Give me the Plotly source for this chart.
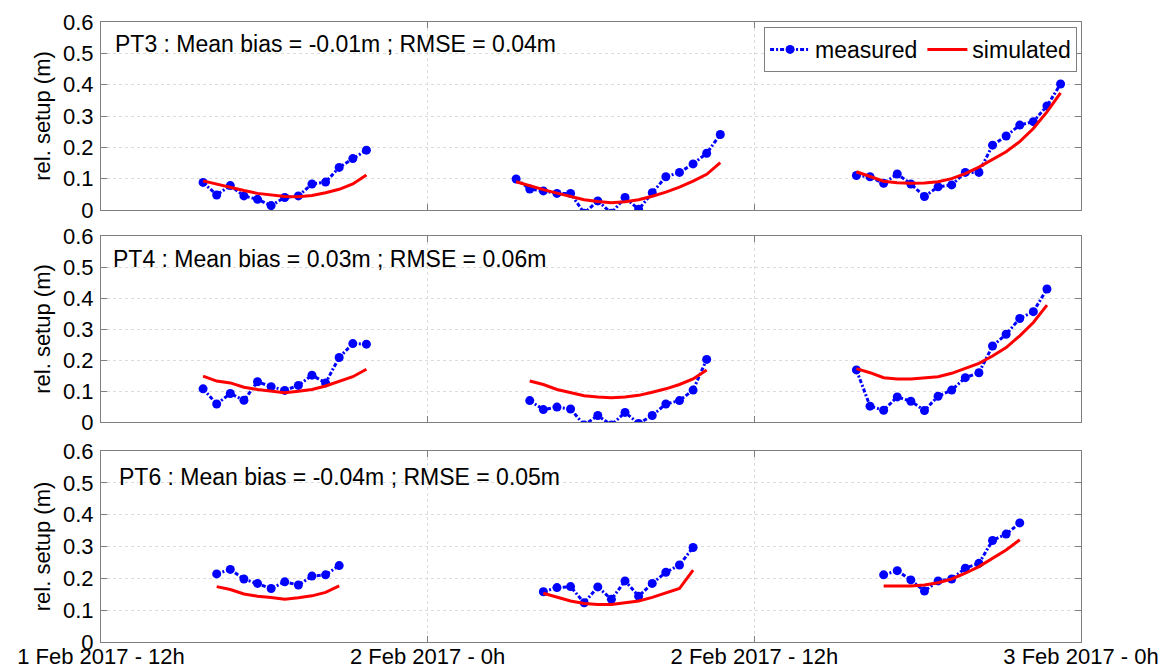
import plotly.graph_objects as go
from plotly.subplots import make_subplots

# ---------------- data ----------------
D1 = "2017-02-01 "
D2 = "2017-02-02 "

# PT3
pt3_t_a = [D1 + t for t in ["15:45", "16:15", "16:45", "17:15", "17:45", "18:15", "18:45", "19:15", "19:45", "20:15", "20:45", "21:15", "21:45"]]
pt3_t_b = [D2 + t for t in ["03:15", "03:45", "04:15", "04:45", "05:15", "05:45", "06:15", "06:45", "07:15", "07:45", "08:15", "08:45", "09:15", "09:45", "10:15", "10:45"]]
pt3_t_c = [D2 + t for t in ["15:45", "16:15", "16:45", "17:15", "17:45", "18:15", "18:45", "19:15", "19:45", "20:15", "20:45", "21:15", "21:45", "22:15", "22:45", "23:15"]]
pt3_meas_a = [0.088, 0.048, 0.078, 0.045, 0.034, 0.014, 0.040, 0.045, 0.083, 0.089, 0.136, 0.164, 0.191]
pt3_sim_a = [0.093, 0.082, 0.072, 0.062, 0.053, 0.047, 0.043, 0.042, 0.046, 0.055, 0.066, 0.083, 0.112]
pt3_meas_b = [0.099, 0.067, 0.061, 0.053, 0.053, -0.010, 0.029, -0.010, 0.040, 0.002, 0.055, 0.106, 0.120, 0.147, 0.181, 0.241]
pt3_sim_b = [0.090, 0.077, 0.065, 0.054, 0.043, 0.033, 0.027, 0.023, 0.026, 0.033, 0.044, 0.057, 0.073, 0.092, 0.114, 0.151]
pt3_meas_c = [0.110, 0.106, 0.085, 0.115, 0.083, 0.043, 0.074, 0.080, 0.120, 0.120, 0.207, 0.236, 0.271, 0.282, 0.332, 0.402]
pt3_sim_c = [0.122, 0.106, 0.092, 0.087, 0.085, 0.086, 0.090, 0.100, 0.116, 0.137, 0.161, 0.186, 0.218, 0.260, 0.313, 0.374]

# PT4
pt4_t_a = pt3_t_a
pt4_t_b = [D2 + t for t in ["03:45", "04:15", "04:45", "05:15", "05:45", "06:15", "06:45", "07:15", "07:45", "08:15", "08:45", "09:15", "09:45", "10:15"]]
pt4_t_c = [D2 + t for t in ["15:45", "16:15", "16:45", "17:15", "17:45", "18:15", "18:45", "19:15", "19:45", "20:15", "20:45", "21:15", "21:45", "22:15", "22:45"]]
pt4_meas_a = [0.107, 0.058, 0.092, 0.070, 0.130, 0.114, 0.102, 0.118, 0.151, 0.126, 0.208, 0.253, 0.251]
pt4_sim_a = [0.148, 0.132, 0.126, 0.112, 0.105, 0.099, 0.094, 0.099, 0.105, 0.116, 0.130, 0.146, 0.170]
pt4_meas_b = [0.069, 0.040, 0.048, 0.042, -0.010, 0.021, -0.010, 0.031, -0.005, 0.021, 0.058, 0.069, 0.103, 0.202]
pt4_sim_b = [0.132, 0.121, 0.105, 0.094, 0.085, 0.081, 0.078, 0.081, 0.086, 0.096, 0.107, 0.121, 0.139, 0.168]
pt4_meas_c = [0.168, 0.051, 0.038, 0.081, 0.067, 0.037, 0.083, 0.103, 0.143, 0.159, 0.245, 0.283, 0.334, 0.356, 0.429]
pt4_sim_c = [0.172, 0.159, 0.143, 0.139, 0.139, 0.142, 0.146, 0.157, 0.173, 0.189, 0.213, 0.240, 0.278, 0.321, 0.377]

# PT6
pt6_t_a = [D1 + t for t in ["16:15", "16:45", "17:15", "17:45", "18:15", "18:45", "19:15", "19:45", "20:15", "20:45"]]
pt6_t_b = [D2 + t for t in ["04:15", "04:45", "05:15", "05:45", "06:15", "06:45", "07:15", "07:45", "08:15", "08:45", "09:15", "09:45"]]
pt6_t_c = [D2 + t for t in ["16:45", "17:15", "17:45", "18:15", "18:45", "19:15", "19:45", "20:15", "20:45", "21:15", "21:45"]]
pt6_meas_a = [0.214, 0.228, 0.198, 0.184, 0.168, 0.189, 0.179, 0.207, 0.211, 0.240]
pt6_sim_a = [0.174, 0.165, 0.151, 0.144, 0.140, 0.134, 0.139, 0.145, 0.156, 0.176]
pt6_meas_b = [0.158, 0.171, 0.174, 0.123, 0.173, 0.134, 0.192, 0.144, 0.184, 0.219, 0.242, 0.297]
pt6_sim_b = [0.153, 0.140, 0.129, 0.121, 0.118, 0.118, 0.123, 0.129, 0.140, 0.153, 0.168, 0.226]
pt6_meas_c = [0.211, 0.224, 0.195, 0.160, 0.192, 0.198, 0.232, 0.247, 0.319, 0.339, 0.374]
pt6_sim_c = [0.176, 0.176, 0.176, 0.179, 0.186, 0.198, 0.216, 0.237, 0.263, 0.289, 0.321]

panel_titles = ["PT3 : Mean bias = -0.01m ; RMSE = 0.04m",
                "PT4 : Mean bias = 0.03m ; RMSE = 0.06m",
                "PT6 : Mean bias = -0.04m ; RMSE = 0.05m"]
x_tickvals = ["2017-02-01 12:00", "2017-02-02 00:00", "2017-02-02 12:00", "2017-02-03 00:00"]
x_ticktext = ["1 Feb 2017 - 12h", "2 Feb 2017 - 0h", "2 Feb 2017 - 12h", "3 Feb 2017 - 0h"]
y_tickvals = [0, 0.1, 0.2, 0.3, 0.4, 0.5, 0.6]
y_ticktext = ["0", "0.1", "0.2", "0.3", "0.4", "0.5", "0.6"]

panels = [
    [(pt3_t_a, pt3_meas_a, pt3_sim_a), (pt3_t_b, pt3_meas_b, pt3_sim_b), (pt3_t_c, pt3_meas_c, pt3_sim_c)],
    [(pt4_t_a, pt4_meas_a, pt4_sim_a), (pt4_t_b, pt4_meas_b, pt4_sim_b), (pt4_t_c, pt4_meas_c, pt4_sim_c)],
    [(pt6_t_a, pt6_meas_a, pt6_sim_a), (pt6_t_b, pt6_meas_b, pt6_sim_b), (pt6_t_c, pt6_meas_c, pt6_sim_c)],
]

# ---------------- figure ----------------
FONT = "Arial, Liberation Sans, sans-serif"
W, H = 1167, 670
ML, MR, MT, MB = 101, 86, 22, 28
PH = H - MT - MB

def frac(px_top, px_bottom):
    return [(H - MB - px_bottom) / PH, (H - MB - px_top) / PH]

domains = [frac(22, 210), frac(236, 422), frac(451, 642)]
title_pos = [(0.012, 0.885), (0.010, 0.875), (0.016, 0.865)]

fig = make_subplots(rows=3, cols=1, shared_xaxes=True)

def joined(segs, idx):
    xs, ys = [], []
    for k, s in enumerate(segs):
        if k > 0:
            xs.append(None)
            ys.append(None)
        xs.extend(s[0])
        ys.extend(s[idx])
    return xs, ys

for r, segs in enumerate(panels, start=1):
    mx, my = joined(segs, 1)
    sx, sy = joined(segs, 2)
    fig.add_trace(go.Scatter(
        x=mx, y=my, mode="lines+markers", name="measured",
        line=dict(color="#0000ff", width=3, dash="4px,2px,2px,2px"),
        marker=dict(color="#0000ff", size=9),
        showlegend=(r == 1), connectgaps=False), row=r, col=1)
    fig.add_trace(go.Scatter(
        x=sx, y=sy, mode="lines", name="simulated",
        line=dict(color="#ff0000", width=3),
        showlegend=(r == 1), connectgaps=False), row=r, col=1)

axis_common = dict(showline=True, linecolor="#7f7f7f", linewidth=1, mirror="ticks",
                   ticks="inside", tickcolor="#7f7f7f", ticklen=6,
                   showgrid=True, gridcolor="#dcdcdc", griddash="dot", gridwidth=1,
                   zeroline=False, automargin=False)

for r in range(1, 4):
    xa = "xaxis" if r == 1 else f"xaxis{r}"
    ya = "yaxis" if r == 1 else f"yaxis{r}"
    fig.layout[xa].update(range=["2017-02-01 12:00", "2017-02-03 00:00"], type="date",
                          tickvals=x_tickvals, ticktext=x_ticktext,
                          showticklabels=(r == 3), ticklabelstandoff=-5,
                          tickfont=dict(family=FONT, size=22, color="black"),
                          **axis_common)
    fig.layout[ya].update(range=[0, 0.6], tickvals=y_tickvals, ticktext=y_ticktext,
                          domain=domains[r - 1], ticklabelstandoff=2,
                          tickfont=dict(family=FONT, size=22, color="black"),
                          title=dict(text="rel. setup (m)", font=dict(family=FONT, size=22, color="black"), standoff=6),
                          **axis_common)
    fig.add_annotation(text=panel_titles[r - 1], xref="x domain" if r == 1 else f"x{r} domain",
                       yref="y domain" if r == 1 else f"y{r} domain",
                       x=title_pos[r - 1][0], y=title_pos[r - 1][1],
                       xanchor="left", yanchor="middle", showarrow=False,
                       font=dict(family=FONT, size=23, color="black"))

fig.update_layout(
    width=W, height=H,
    margin=dict(l=ML, r=MR, t=MT, b=MB, autoexpand=False),
    paper_bgcolor="white", plot_bgcolor="white",
    font=dict(family=FONT, size=22, color="black"),
    legend=dict(orientation="h", x=0.996, xanchor="right", y=0.992, yanchor="top",
                bgcolor="white", bordercolor="#7f7f7f", borderwidth=1,
                font=dict(family=FONT, size=23, color="black"),
                itemwidth=40, tracegroupgap=0),
)

fig.write_html("out.html")
